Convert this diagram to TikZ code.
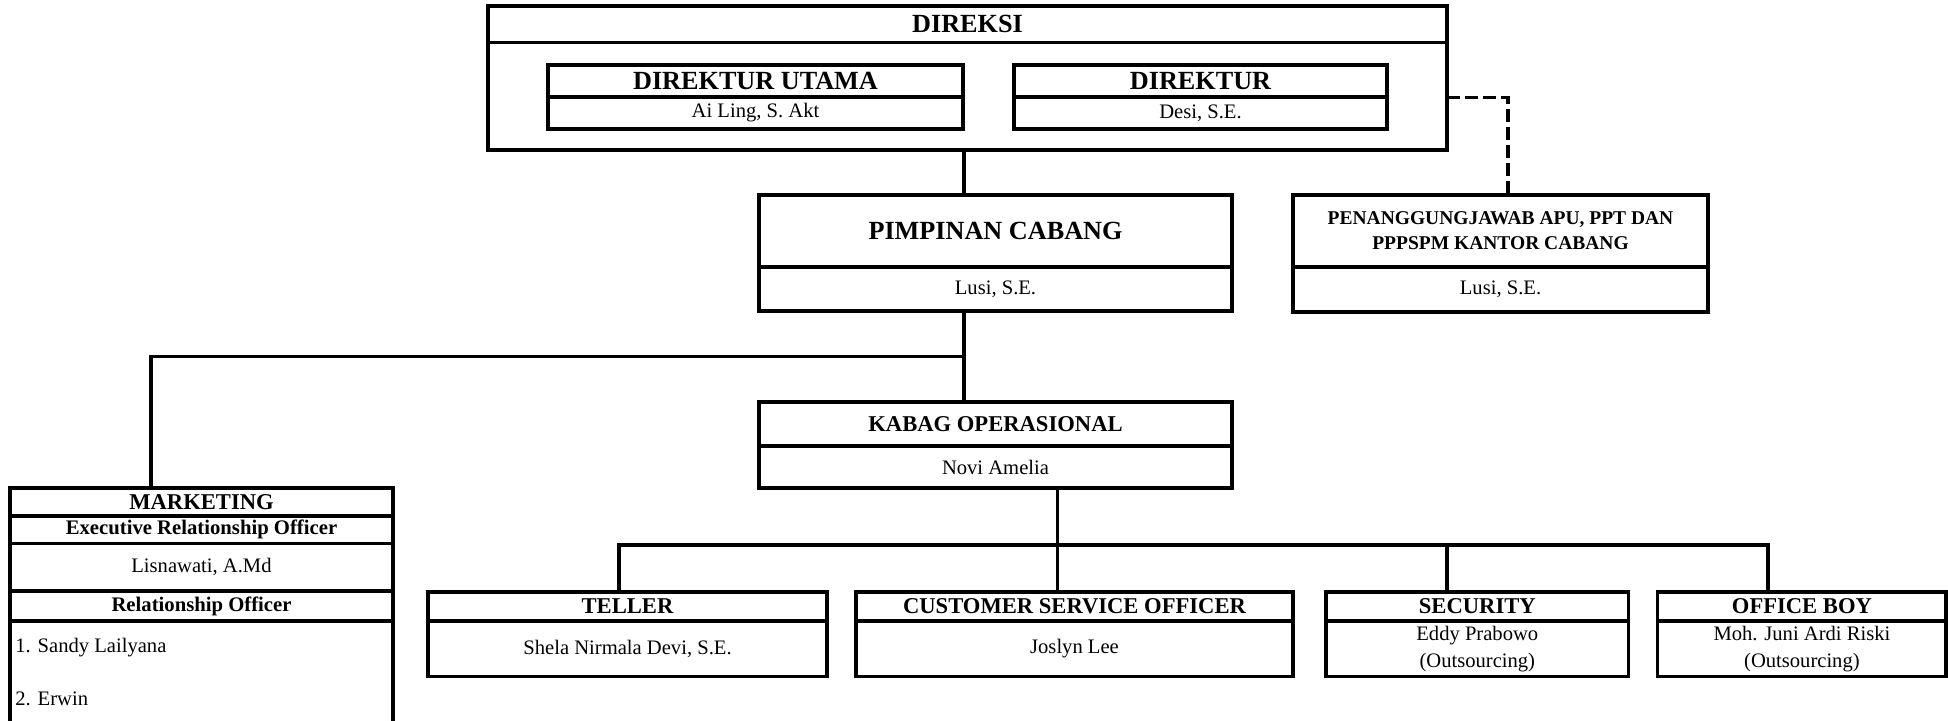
\documentclass[tikz,border=0pt]{standalone}
\usepackage{fontspec}
\setmainfont{Liberation Serif}
\tikzset{
  box/.style={draw, line width=1.6pt, inner sep=0pt, outer sep=0pt, align=center, minimum width=#1},
  conn/.style={line width=1.6pt, line cap=rect},
  dashconn/.style={line width=1.6pt, dash pattern=on 6.5pt off 2.5pt},
  hbig/.style={font=\fontsize{13.1}{15}\selectfont\bfseries},
  hmid/.style={font=\fontsize{11.3}{13.5}\selectfont\bfseries},
  hsmall/.style={font=\fontsize{10.35}{12.5}\selectfont\bfseries},
  person/.style={font=\fontsize{10.3}{13.5}\selectfont}
}
\begin{document}
\begin{tikzpicture}[x=0.5pt,y=-0.5pt]
  \useasboundingbox (0,0) rectangle (1948,721);

  % Direksi with its two directors
  \node[box=479.5pt, minimum height=18.25pt, hbig] (direksihead) at (967.5,24.25) {DIREKSI};
  \node[box=479.5pt, minimum height=53.75pt] (direksibody) at (967.5,96.25) {};
  \node[box=207.5pt, minimum height=16pt, hbig] (headdirut) at (755.5,81) {DIREKTUR UTAMA};
  \node[box=207.5pt, minimum height=16pt, person] (bodydirut) at (755.5,113) {Ai Ling, S. Akt};
  \node[box=186.5pt, minimum height=16pt, hbig] (headdirektur) at (1200.5,81) {DIREKTUR};
  \node[box=186.5pt, minimum height=16pt, person] (bodydirektur) at (1200.5,113) {Desi, S.E.};

  % Pimpinan cabang and penanggungjawab
  \node[box=236.5pt, minimum height=36pt, hbig] (pimpinanhead) at (995.5,231) {PIMPINAN CABANG};
  \node[box=236.5pt, minimum height=22pt, person] (pimpinanbody) at (995.5,289) {Lusi, S.E.};
  \node[box=207.5pt, minimum height=36pt, font=\fontsize{9.75}{12.5}\selectfont\bfseries] (penanghead) at (1500.5,231)
    {PENANGGUNGJAWAB APU, PPT DAN\\PPPSPM KANTOR CABANG};
  \node[box=207.5pt, minimum height=22.5pt, person] (penangbody) at (1500.5,289.5) {Lusi, S.E.};

  % Kabag operasional
  \node[box=236.5pt, minimum height=22pt, hmid] (kabaghead) at (995.5,424) {KABAG OPERASIONAL};
  \node[box=236.5pt, minimum height=21pt, person] (kabagbody) at (995.5,467) {Novi Amelia};

  % Marketing column
  \node[box=191.5pt, minimum height=14pt, hmid] (mkthead) at (201.5,502) {MARKETING};
  \node[box=191.5pt, minimum height=13.75pt, hsmall] (mktero) at (201.5,529.75) {Executive Relationship Officer};
  \node[box=191.5pt, minimum height=23.75pt, person] (mkteroname) at (201.5,567.25) {Lisnawati, A.Md};
  \node[box=191.5pt, minimum height=15pt, hsmall] (mktro) at (201.5,606) {Relationship Officer};
  \node[box=191.5pt, minimum height=51.5pt] (mktlist) at (201.5,672.5) {};
  \node[person, anchor=west, inner sep=0pt] (ro1) at (15,648) {1. Sandy Lailyana};
  \node[person, anchor=west, inner sep=0pt] (ro2) at (15,699) {2. Erwin};

  % Bottom row
  \foreach \n/\x/\w/\t/\p in {teller/627.5/199.5/TELLER/{Shela Nirmala Devi, S.E.},
      cso/1074.5/218.5/CUSTOMER SERVICE OFFICER/Joslyn Lee,
      security/1477.3/151.3/SECURITY/{Eddy Prabowo\\(Outsourcing)},
      officeboy/1801.9/144.1/OFFICE BOY/{Moh. Juni Ardi Riski\\(Outsourcing)}}{
    \node[box=\w pt, minimum height=14.5pt, hmid] (head\n) at (\x,606.5) {\t};
    \node[box=\w pt, minimum height=27.75pt, person] (body\n) at (\x,648.75) {\p};
  }

  % Connectors
  \coordinate (trunk) at (964,356.7);
  \coordinate (mktcorner) at (151,356.7);
  \coordinate (dashcorner) at (1508,97.7);
  \coordinate (busmid) at (1057.5,545);
  \draw[conn] (trunk |- direksibody.south) -- (trunk |- pimpinanhead.north);
  \draw[conn] (trunk |- pimpinanbody.south) -- (trunk |- kabaghead.north);
  \draw[conn] (trunk) -- (mktcorner) -- (mktcorner |- mkthead.north);
  \draw[dashconn] (dashcorner -| direksibody.east) -- (dashcorner) -- (dashcorner |- penanghead.north);
  \draw[conn] (busmid |- kabagbody.south) -- (busmid);
  \foreach \n/\x in {teller/619,cso/1057.5,security/1447,officeboy/1768}{
    \coordinate (drop\n) at (\x,545);
    \draw[conn] (drop\n) -- (drop\n |- head\n.north);
  }
  \draw[conn] (dropteller) -- (dropofficeboy);
\end{tikzpicture}
\end{document}
